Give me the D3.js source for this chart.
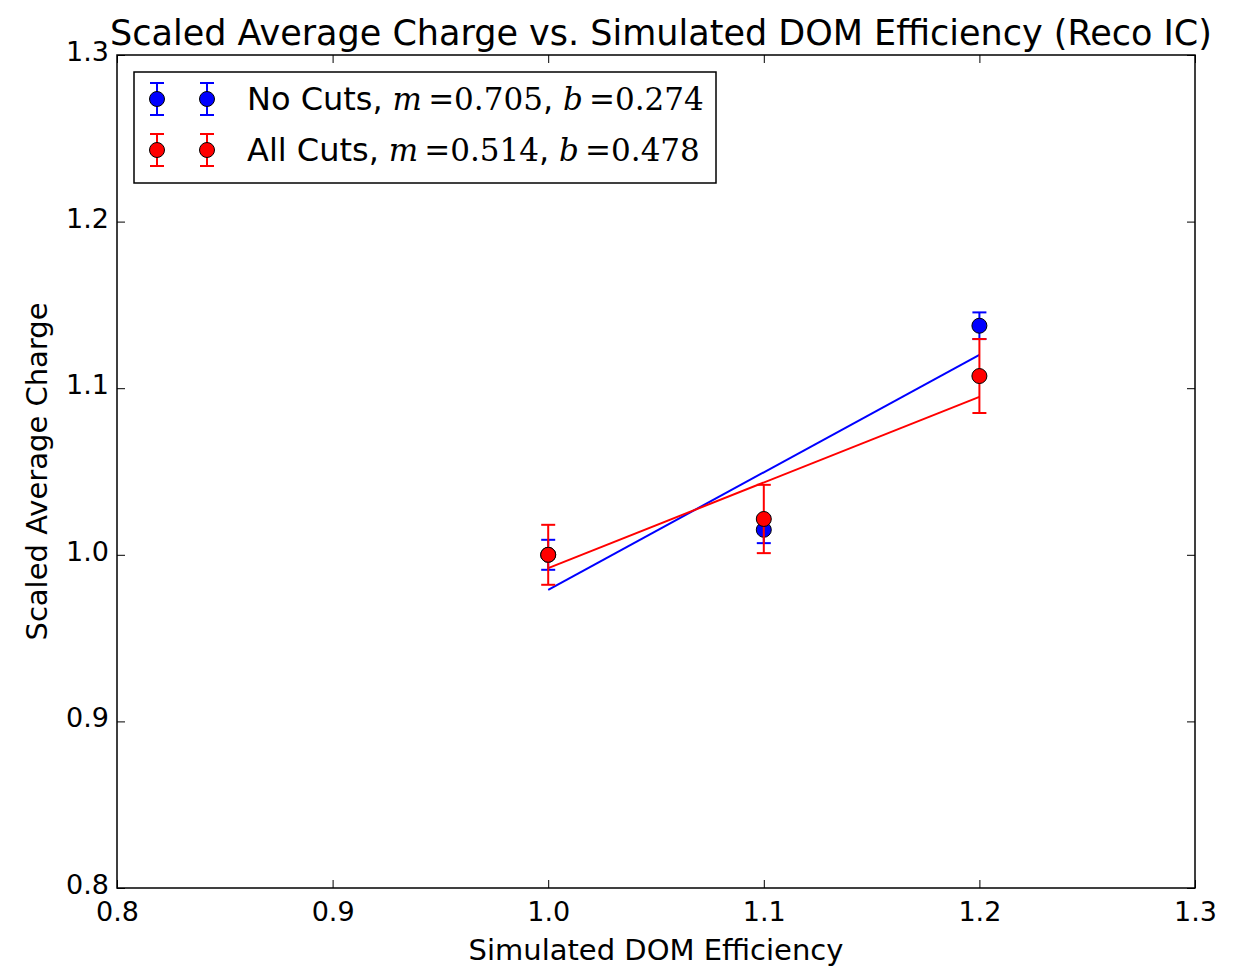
<!DOCTYPE html>
<html lang="en">
<head>
  <meta charset="UTF-8">
  <title>Scaled Average Charge vs. Simulated DOM Efficiency</title>
  <script src="https://d3js.org/d3.v7.min.js"></script>
  <style>
    body { margin: 0; background: #fff; }
    text { font-family: "DejaVu Sans", sans-serif; fill: #000; }
    .math { font-family: "DejaVu Serif", "Liberation Serif", serif; }
  </style>
</head>
<body>
  <div id="chart"></div>
  <script>
    const width = 1245;
    const height = 968;

    // data
    const efficiency = [1.0, 1.1, 1.2];
    const noCutsCharge = [1.000, 1.015, 1.1375];
    const noCutsErr = [0.009, 0.008, 0.008];
    const allCutsCharge = [1.000, 1.0215, 1.1073];
    const allCutsErr = [0.018, 0.0205, 0.0222];
    // fitted lines y = m*x + b
    const noCutsFit = { m: 0.705, b: 0.274 };
    const allCutsFit = { m: 0.514, b: 0.478 };
    const xTicks = [0.8, 0.9, 1.0, 1.1, 1.2, 1.3];
    const yTicks = [0.8, 0.9, 1.0, 1.1, 1.2, 1.3];

    const margin = { top: 55, right: 50, bottom: 80, left: 117 };

    const svg = d3.select("#chart")
      .append("svg")
      .attr("width", width)
      .attr("height", height);

    const x = d3.scaleLinear().domain([0.8, 1.3]).range([margin.left, width - margin.right]);
    const y = d3.scaleLinear().domain([0.8, 1.3]).range([height - margin.bottom, margin.top]);

    const series = [
      { name: "No Cuts", color: "#0000ff", vals: noCutsCharge, err: noCutsErr, fit: noCutsFit },
      { name: "All Cuts", color: "#ff0000", vals: allCutsCharge, err: allCutsErr, fit: allCutsFit }
    ];

    // fit lines
    series.forEach(s => {
      const x0 = d3.min(efficiency), x1 = d3.max(efficiency);
      svg.append("line")
        .attr("x1", x(x0)).attr("y1", y(s.fit.m * x0 + s.fit.b))
        .attr("x2", x(x1)).attr("y2", y(s.fit.m * x1 + s.fit.b))
        .attr("stroke", s.color).attr("stroke-width", 2);
    });

    // error bars + markers
    series.forEach(s => {
      const g = svg.append("g");
      efficiency.forEach((e, i) => {
        const cx = x(e), lo = y(s.vals[i] - s.err[i]), hi = y(s.vals[i] + s.err[i]);
        g.append("line").attr("x1", cx).attr("x2", cx).attr("y1", lo).attr("y2", hi)
          .attr("stroke", s.color).attr("stroke-width", 2);
        [lo, hi].forEach(cy => g.append("line")
          .attr("x1", cx - 7).attr("x2", cx + 7).attr("y1", cy).attr("y2", cy)
          .attr("stroke", s.color).attr("stroke-width", 2));
      });
      g.selectAll("circle").data(efficiency).enter().append("circle")
        .attr("cx", d => x(d))
        .attr("cy", (d, i) => y(s.vals[i]))
        .attr("r", 7.5)
        .attr("fill", s.color)
        .attr("stroke", "#000").attr("stroke-width", 1);
    });

    // axes with inward ticks on all four sides
    const fmt = d3.format(".1f");
    const tickLen = 8;
    const axB = svg.append("g").attr("transform", `translate(0,${y(0.8)})`)
      .call(d3.axisBottom(x).tickValues(xTicks).tickFormat(fmt).tickSizeInner(-tickLen).tickSizeOuter(0).tickPadding(14));
    const axT = svg.append("g").attr("transform", `translate(0,${y(1.3)})`)
      .call(d3.axisTop(x).tickValues(xTicks).tickFormat("").tickSizeInner(-tickLen).tickSizeOuter(0));
    const axL = svg.append("g").attr("transform", `translate(${x(0.8)},0)`)
      .call(d3.axisLeft(y).tickValues(yTicks).tickFormat(fmt).tickSizeInner(-tickLen).tickSizeOuter(0).tickPadding(8));
    const axR = svg.append("g").attr("transform", `translate(${x(1.3)},0)`)
      .call(d3.axisRight(y).tickValues(yTicks).tickFormat("").tickSizeInner(-tickLen).tickSizeOuter(0));
    [axB, axT, axL, axR].forEach(a => {
      a.select(".domain").remove();
      a.selectAll(".tick line").attr("stroke", "#000").attr("stroke-width", 1);
      a.selectAll(".tick text").style("font-family", "DejaVu Sans").style("font-size", "27px").attr("fill", "#000");
    });
    axL.selectAll(".tick text").attr("dy", "0.2em");

    // frame
    svg.append("rect")
      .attr("x", x(0.8)).attr("y", y(1.3))
      .attr("width", x(1.3) - x(0.8)).attr("height", y(0.8) - y(1.3))
      .attr("fill", "none").attr("stroke", "#000").attr("stroke-width", 1.5);

    // title and axis labels
    svg.append("text")
      .attr("x", (x(0.8) + x(1.3)) / 2 + 5).attr("y", 45)
      .attr("text-anchor", "middle").style("font-size", "35px")
      .text("Scaled Average Charge vs. Simulated DOM Efficiency (Reco IC)");
    svg.append("text")
      .attr("x", (x(0.8) + x(1.3)) / 2).attr("y", 960)
      .attr("text-anchor", "middle").style("font-size", "29px")
      .text("Simulated DOM Efficiency");
    svg.append("text")
      .attr("transform", `translate(47,${(y(0.8) + y(1.3)) / 2}) rotate(-90)`)
      .attr("text-anchor", "middle").style("font-size", "29px")
      .text("Scaled Average Charge");

    // legend
    const leg = svg.append("g");
    leg.append("rect")
      .attr("x", 134).attr("y", 72).attr("width", 582).attr("height", 111)
      .attr("fill", "#fff").attr("stroke", "#000").attr("stroke-width", 1.5);
    series.forEach((s, i) => {
      const cy = 99 + i * 51;
      [157, 207].forEach(cx => {
        leg.append("line").attr("x1", cx).attr("x2", cx).attr("y1", cy - 16).attr("y2", cy + 16)
          .attr("stroke", s.color).attr("stroke-width", 2);
        [cy - 16, cy + 16].forEach(yy => leg.append("line")
          .attr("x1", cx - 7).attr("x2", cx + 7).attr("y1", yy).attr("y2", yy)
          .attr("stroke", s.color).attr("stroke-width", 2));
        leg.append("circle").attr("cx", cx).attr("cy", cy).attr("r", 7.5)
          .attr("fill", s.color).attr("stroke", "#000").attr("stroke-width", 1);
      });
      const t = leg.append("text").attr("x", 247).attr("y", cy + 11).style("font-size", "32px");
      t.append("tspan").text(s.name + ",");
      t.append("tspan").attr("class", "math").style("font-style", "italic").style("font-size", "31px").text(" m");
      t.append("tspan").attr("class", "math").style("font-size", "31px").text("\u2009=" + s.fit.m.toFixed(3));
      t.append("tspan").text(",");
      t.append("tspan").attr("class", "math").style("font-style", "italic").style("font-size", "31px").text(" b");
      t.append("tspan").attr("class", "math").style("font-size", "31px").text("\u2009=" + s.fit.b.toFixed(3));
    });
  </script>
</body>
</html>
